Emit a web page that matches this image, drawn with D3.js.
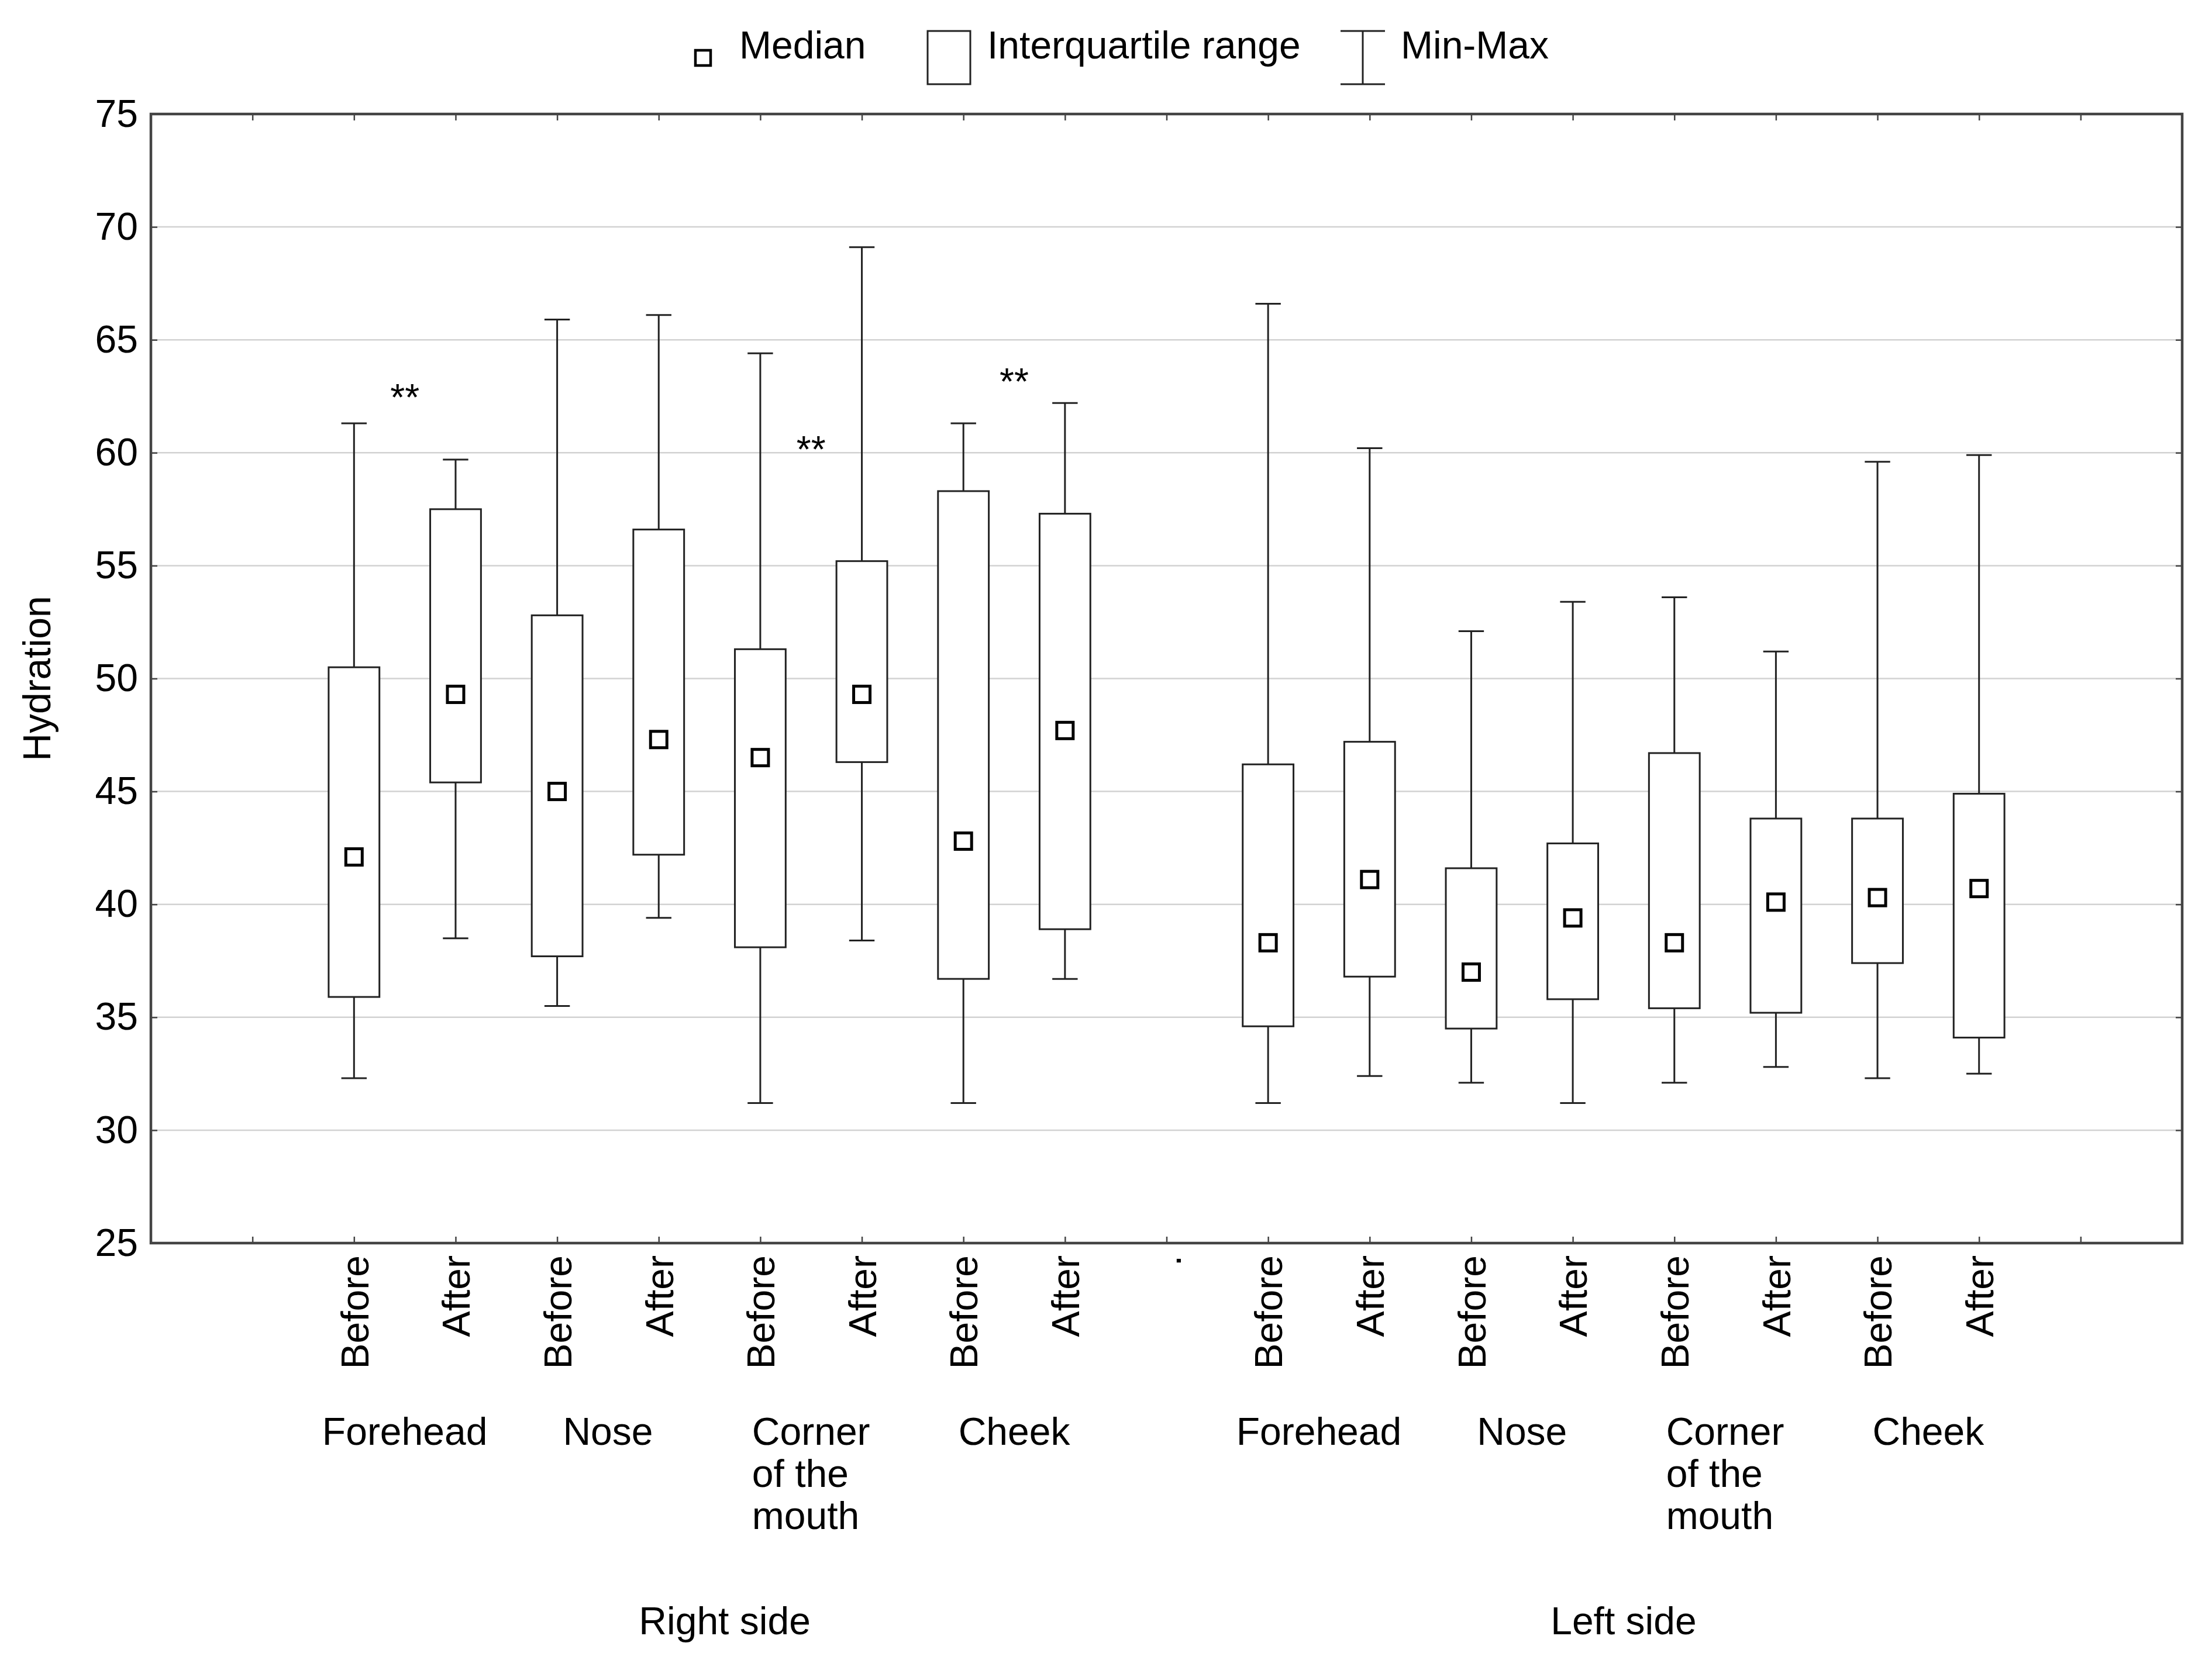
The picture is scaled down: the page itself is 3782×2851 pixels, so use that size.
<!DOCTYPE html>
<html>
<head>
<meta charset="utf-8">
<script src="https://cdnjs.cloudflare.com/ajax/libs/d3/7.8.5/d3.min.js"></script>
<style>
body { margin: 0; background: #fff; }
text { font-family: "Liberation Sans", Arial, sans-serif; fill: #000; }
</style>
</head>
<body>
<svg id="chart"></svg>
<script>
// tick labels along the x axis, positions 1..19 (position 0 and 20 are the frame edges)
var xLabels = ["", "Before", "After", "Before", "After", "Before", "After", "Before", "After", ".",
               "Before", "After", "Before", "After", "Before", "After", "Before", "After", ""];
var sides = ["Right side", "Left side"];
var sites = [["Forehead"], ["Nose"], ["Corner", "of the", "mouth"], ["Cheek"]];

// box values, 16 boxes in the order they appear (right side then left side)
var mins    = [32.3, 38.5, 35.5, 39.4, 31.2, 38.4, 31.2, 36.7, 31.2, 32.4, 32.1, 31.2, 32.1, 32.8, 32.3, 32.5];
var q1s     = [35.9, 45.4, 37.7, 42.2, 38.1, 46.3, 36.7, 38.9, 34.6, 36.8, 34.5, 35.8, 35.4, 35.2, 37.4, 34.1];
var medians = [42.1, 49.3, 45.0, 47.3, 46.5, 49.3, 42.8, 47.7, 38.3, 41.1, 37.0, 39.4, 38.3, 40.1, 40.3, 40.7];
var q3s     = [50.5, 57.5, 52.8, 56.6, 51.3, 55.2, 58.3, 57.3, 46.2, 47.2, 41.6, 42.7, 46.7, 43.8, 43.8, 44.9];
var maxs    = [61.3, 59.7, 65.9, 66.1, 64.4, 69.1, 61.3, 62.2, 66.6, 60.2, 52.1, 53.4, 53.6, 51.2, 59.6, 59.9];

// significance marks per site on the right side, and the level they sit at
var stars      = ["**", "", "**", "**"];
var starLevels = [62.8, 0, 60.5, 63.5];

var yTicks = [25, 30, 35, 40, 45, 50, 55, 60, 65, 70, 75];

var W = 3782, H = 2851;
var margin = { top: 195, right: 51, bottom: 725, left: 258 };

var svg = d3.select("#chart").attr("width", W).attr("height", H);
svg.append("rect").attr("width", W).attr("height", H).attr("fill", "#fff");

var x = d3.scaleLinear().domain([0, 20]).range([margin.left, W - margin.right]);
var y = d3.scaleLinear().domain([25, 75]).range([H - margin.bottom, margin.top]);
var step = x(1) - x(0);

// positions of the boxes: every tick with a Before/After label
var boxPos = [];
xLabels.forEach(function(l, i) { if (l == "Before" || l == "After") boxPos.push(i + 1); });

var boxes = boxPos.map(function(p, i) {
    return { pos: p, min: mins[i], q1: q1s[i], med: medians[i], q3: q3s[i], max: maxs[i] };
});

// grid
svg.append("g")
    .selectAll("line")
    .data(yTicks.slice(1, -1))
    .enter()
    .append("line")
    .attr("x1", x(0)).attr("x2", x(20))
    .attr("y1", function(d) { return y(d); })
    .attr("y2", function(d) { return y(d); })
    .attr("stroke", "#d2d2d2")
    .attr("stroke-width", 2.5);

// axes with inward ticks
var tickLen = 11;
var xAxis = svg.append("g")
    .attr("transform", "translate(0," + y(25) + ")")
    .call(d3.axisBottom(x).tickValues(d3.range(1, 20)).tickSize(-tickLen).tickSizeOuter(0)
        .tickFormat(function(d) { return xLabels[d - 1]; }));
xAxis.selectAll("text")
    .attr("transform", "rotate(-90)")
    .attr("x", -21)
    .attr("y", 0)
    .attr("dy", "0.36em")
    .attr("text-anchor", "end")
    .style("font-size", "66px")
    .style("font-family", "'Liberation Sans', Arial, sans-serif");

svg.append("g")
    .attr("transform", "translate(0," + y(75) + ")")
    .call(d3.axisTop(x).tickValues(d3.range(1, 20)).tickSize(-tickLen).tickSizeOuter(0).tickFormat(""));

var yAxis = svg.append("g")
    .attr("transform", "translate(" + x(0) + ",0)")
    .call(d3.axisLeft(y).tickValues(yTicks).tickSize(-tickLen).tickSizeOuter(0).tickPadding(22));
yAxis.selectAll("text")
    .style("font-size", "66px")
    .style("font-family", "'Liberation Sans', Arial, sans-serif");

svg.append("g")
    .attr("transform", "translate(" + x(20) + ",0)")
    .call(d3.axisRight(y).tickValues(yTicks).tickSize(-tickLen).tickSizeOuter(0).tickFormat(""));

svg.selectAll(".tick line").attr("stroke", "#444").attr("stroke-width", 2.5);
svg.selectAll(".domain").remove();

// frame
svg.append("rect")
    .attr("x", x(0)).attr("y", y(75))
    .attr("width", x(20) - x(0)).attr("height", y(25) - y(75))
    .attr("fill", "none")
    .attr("stroke", "#444")
    .attr("stroke-width", 4.5);

// boxes
var boxW = step * 0.5, capW = step * 0.25, medSize = 28;
var bg = svg.append("g").selectAll("g").data(boxes).enter().append("g");

bg.append("line")
    .attr("x1", function(d) { return x(d.pos); })
    .attr("x2", function(d) { return x(d.pos); })
    .attr("y1", function(d) { return y(d.max); })
    .attr("y2", function(d) { return y(d.min); })
    .attr("stroke", "#222").attr("stroke-width", 3);

["min", "max"].forEach(function(k) {
    bg.append("line")
        .attr("x1", function(d) { return x(d.pos) - capW / 2; })
        .attr("x2", function(d) { return x(d.pos) + capW / 2; })
        .attr("y1", function(d) { return y(d[k]); })
        .attr("y2", function(d) { return y(d[k]); })
        .attr("stroke", "#222").attr("stroke-width", 3);
});

bg.append("rect")
    .attr("x", function(d) { return x(d.pos) - boxW / 2; })
    .attr("width", boxW)
    .attr("y", function(d) { return y(d.q3); })
    .attr("height", function(d) { return y(d.q1) - y(d.q3); })
    .attr("fill", "#fff")
    .attr("stroke", "#222").attr("stroke-width", 3);

bg.append("rect")
    .attr("x", function(d) { return x(d.pos) - medSize / 2; })
    .attr("y", function(d) { return y(d.med) - medSize / 2; })
    .attr("width", medSize).attr("height", medSize)
    .attr("fill", "#fff")
    .attr("stroke", "#000").attr("stroke-width", 5);

// significance stars, centred between Before and After of each right-side site
svg.append("g")
    .selectAll("text")
    .data(stars)
    .enter()
    .append("text")
    .attr("x", function(d, i) { return x(boxPos[i * 2] + 0.5); })
    .attr("y", function(d, i) { return y(starLevels[i]) + 36; })
    .attr("text-anchor", "middle")
    .style("font-size", "64px")
    .text(function(d) { return d; });

// site labels under each Before/After pair
sides.forEach(function(side, s) {
    var first = boxPos[s * 8], last = boxPos[s * 8 + 7];
    sites.forEach(function(lines, j) {
        var cx = x(boxPos[s * 8 + j * 2] + 0.5);
        var t = svg.append("text").style("font-size", "66px").attr("y", 2471);
        lines.forEach(function(l, k) {
            t.append("tspan").attr("dy", k == 0 ? 0 : 72).text(l);
        });
        var widest = 0;
        t.selectAll("tspan").each(function() { widest = Math.max(widest, this.getComputedTextLength()); });
        t.selectAll("tspan").attr("x", cx - widest / 2);
    });
    svg.append("text")
        .attr("x", x((first + last) / 2 + (s == 0 ? 0.15 : 0)))
        .attr("y", 2795)
        .attr("text-anchor", "middle")
        .style("font-size", "66px")
        .text(side);
});

// y axis title
svg.append("text")
    .attr("transform", "translate(86," + y(50) + ") rotate(-90)")
    .attr("text-anchor", "middle")
    .style("font-size", "66px")
    .text("Hydration");

// legend
var lg = svg.append("g");
lg.append("rect").attr("x", 1189).attr("y", 86).attr("width", 26).attr("height", 26)
    .attr("fill", "#fff").attr("stroke", "#000").attr("stroke-width", 4.5);
lg.append("text").attr("x", 1264).attr("y", 100).style("font-size", "66px").text("Median");
lg.append("rect").attr("x", 1586).attr("y", 53).attr("width", 73).attr("height", 91)
    .attr("fill", "#fff").attr("stroke", "#222").attr("stroke-width", 3);
lg.append("text").attr("x", 1688).attr("y", 100).style("font-size", "66px").text("Interquartile range");
lg.append("line").attr("x1", 2330).attr("x2", 2330).attr("y1", 53).attr("y2", 144)
    .attr("stroke", "#222").attr("stroke-width", 3);
lg.append("line").attr("x1", 2292).attr("x2", 2368).attr("y1", 53).attr("y2", 53)
    .attr("stroke", "#222").attr("stroke-width", 3);
lg.append("line").attr("x1", 2292).attr("x2", 2368).attr("y1", 144).attr("y2", 144)
    .attr("stroke", "#222").attr("stroke-width", 3);
lg.append("text").attr("x", 2395).attr("y", 100).style("font-size", "66px").text("Min-Max");
</script>
</body>
</html>
